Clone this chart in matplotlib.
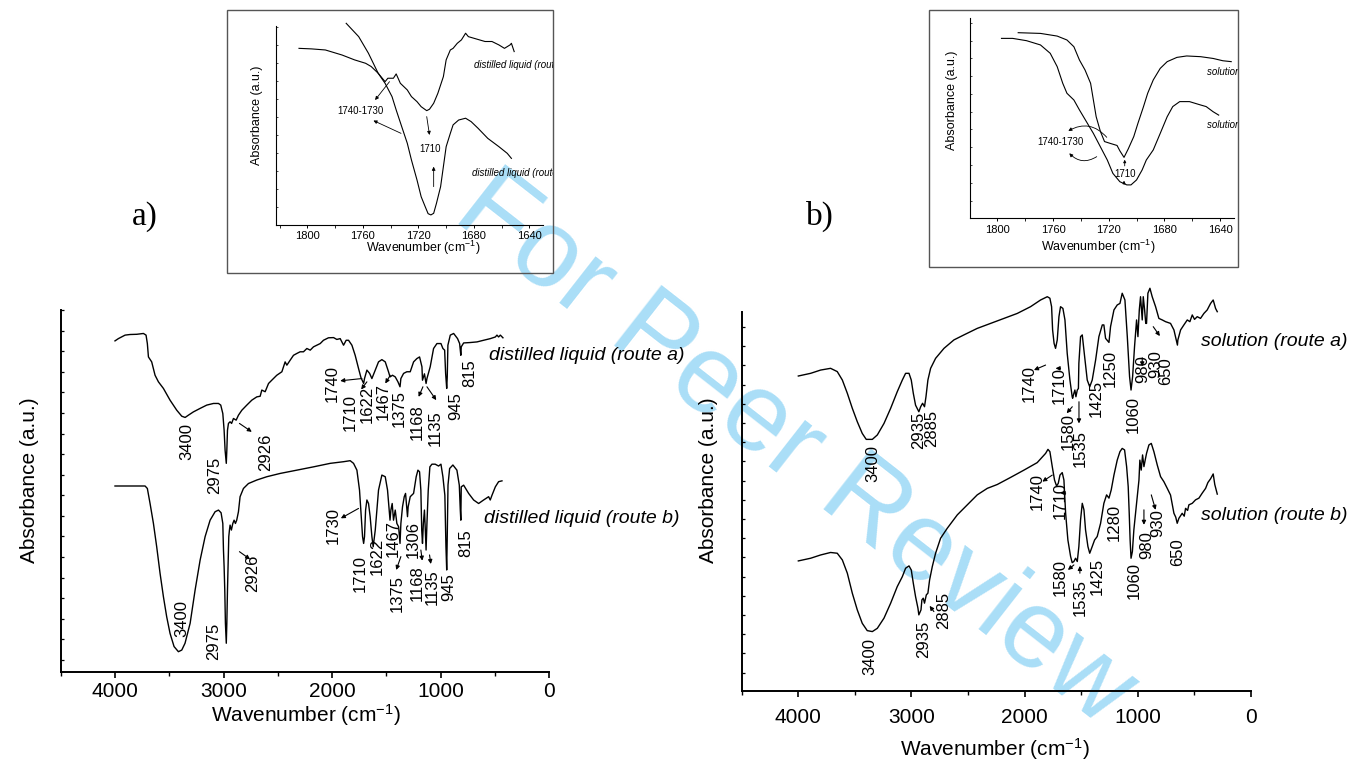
import matplotlib
matplotlib.use('Agg')
import matplotlib.pyplot as plt
from matplotlib.patches import Rectangle
from matplotlib.ticker import MultipleLocator

plt.rcParams['font.family'] = ['Liberation Sans', 'DejaVu Sans']
plt.rcParams['mathtext.default'] = 'regular'

# ---------------- panel a) distilled liquid, full spectra ----------------
dl_a_wn = [4000, 3969, 3907, 3861, 3800, 3738, 3714, 3702, 3692, 3662, 3631, 3600, 3554, 3493,
           3431, 3385, 3354, 3324, 3278, 3216, 3155, 3093, 3047, 3026, 3007, 2995, 2986, 2975,
           2970, 2964, 2955, 2940, 2926, 2909, 2884, 2863, 2832, 2786, 2740, 2694, 2663, 2648,
           2617, 2586, 2556, 2510, 2463, 2433, 2417, 2387, 2356, 2325, 2295, 2264, 2233, 2202,
           2172, 2141, 2110, 2080, 2034, 1987, 1957, 1926, 1895, 1871, 1849, 1818, 1788, 1757,
           1735, 1710, 1702, 1680, 1655, 1634, 1603, 1573, 1542, 1511, 1481, 1467, 1444, 1419,
           1394, 1375, 1367, 1342, 1312, 1281, 1250, 1220, 1195, 1173, 1168, 1150, 1135, 1127,
           1097, 1066, 1035, 998, 980, 964, 955, 945, 940, 934, 912, 881, 845, 826, 815, 811,
           789, 728, 666, 605, 543, 497, 482, 467, 451, 427]
dl_a_ab = [16.50, 16.61, 16.78, 16.81, 16.82, 16.86, 16.78, 16.37, 15.72, 15.48, 14.83, 14.51, 14.19, 13.62,
           13.13, 12.84, 12.78, 12.89, 13.05, 13.22, 13.38, 13.46, 13.46, 13.38, 12.97, 12.16, 11.19, 10.55,
           11.19, 12.16, 12.49, 12.57, 12.49, 12.73, 12.65, 12.89, 13.13, 13.38, 13.62, 13.78, 13.81, 14.11,
           14.03, 14.43, 14.59, 14.83, 15.00, 15.48, 15.32, 15.56, 15.80, 15.89, 15.97, 15.97, 16.13, 16.05,
           16.21, 16.29, 16.37, 16.53, 16.65, 16.66, 16.57, 16.61, 16.29, 16.53, 16.53, 16.29, 15.80, 15.16,
           14.72, 14.43, 14.67, 15.08, 14.92, 14.67, 15.08, 15.48, 15.59, 15.48, 15.00, 14.75, 14.83, 14.75,
           14.51, 14.27, 14.67, 14.92, 15.00, 15.00, 15.48, 15.64, 15.72, 15.24, 14.59, 14.90, 14.43, 14.67,
           15.24, 16.13, 16.37, 16.37, 16.13, 16.05, 14.92, 14.19, 14.75, 16.29, 16.78, 16.86, 16.61, 16.37, 15.80, 16.21,
           16.40, 16.42, 16.45, 16.53, 16.61, 16.69, 16.78, 16.69, 16.78, 16.65]

dl_b_wn = [4000, 3861, 3723, 3702, 3677, 3646, 3616, 3585, 3554, 3524, 3493, 3456, 3416, 3385,
           3355, 3308, 3262, 3216, 3170, 3124, 3078, 3047, 3023, 3007, 3001, 2995, 2989, 2983,
           2975, 2970, 2964, 2958, 2952, 2946, 2940, 2928, 2915, 2903, 2891, 2879, 2863, 2848,
           2817, 2771, 2694, 2602, 2479, 2325, 2172, 2018, 1895, 1834, 1803, 1772, 1748, 1732,
           1720, 1710, 1702, 1692, 1680, 1665, 1650, 1634, 1622, 1603, 1573, 1542, 1511, 1490,
           1467, 1459, 1447, 1435, 1419, 1404, 1388, 1375, 1367, 1352, 1336, 1324, 1306, 1300,
           1281, 1250, 1226, 1210, 1195, 1183, 1175, 1168, 1160, 1150, 1142, 1135, 1127, 1115,
           1100, 1081, 1051, 1020, 998, 980, 962, 952, 945, 940, 933, 918, 888, 851, 829, 820,
           815, 811, 789, 743, 697, 651, 605, 559, 544, 528, 497, 467, 436]
dl_b_ab = [9.45, 9.45, 9.45, 9.33, 8.60, 7.63, 6.50, 5.21, 4.07, 3.10, 2.29, 1.65, 1.40, 1.48,
           1.81, 2.78, 4.40, 5.85, 6.99, 7.79, 8.20, 8.28, 8.15, 7.63, 6.34, 5.53, 4.40, 2.78,
           1.81, 2.78, 4.40, 5.69, 6.99, 7.31, 7.55, 7.31, 7.63, 7.79, 7.63, 7.79, 8.20, 8.93,
           9.33, 9.57, 9.74, 9.90, 10.06, 10.22, 10.38, 10.55, 10.63, 10.68, 10.55, 10.22, 9.25, 7.96,
           6.99, 6.66, 6.99, 8.28, 8.77, 8.60, 7.96, 6.99, 6.50, 7.31, 9.25, 9.98, 9.90, 9.25,
           7.79, 8.28, 8.60, 7.79, 8.28, 7.63, 7.47, 6.66, 7.63, 8.44, 8.93, 9.09, 7.96, 8.44,
           8.93, 9.09, 9.90, 10.22, 10.14, 9.25, 7.31, 6.66, 7.63, 8.28, 7.31, 6.34, 7.63, 9.25,
           10.38, 10.51, 10.51, 10.42, 10.51, 9.90, 9.00, 6.50, 5.37, 7.00, 9.50, 10.30, 10.47, 10.22, 9.49, 8.30,
           7.79, 9.41, 9.49, 9.09, 8.77, 8.60, 8.77, 8.93, 8.77, 9.00, 9.41, 9.66, 9.70]

# peak labels (text, wavenumber, absorbance)
dl_a_labels = [('3400', 3339, 11.60), ('2975', 3078, 9.98), ('2926', 2617, 11.11),
               ('1740', 2003, 14.43), ('1710', 1834, 13.00), ('1622', 1676, 13.40),
               ('1467', 1533, 13.54), ('1375', 1379, 13.20), ('1168', 1220, 12.55),
               ('1135', 1050, 12.24), ('945', 860, 13.35), ('815', 734, 14.91)]
dl_b_labels = [('3400', 3385, 3.02), ('2975', 3094, 1.89), ('2926', 2731, 5.21),
               ('1730', 1988, 7.55), ('1710', 1742, 5.21), ('1622', 1588, 6.02),
               ('1467', 1435, 6.91), ('1375', 1404, 4.24), ('1306', 1256, 6.86),
               ('1168', 1220, 4.72), ('1135', 1081, 4.56), ('945', 928, 4.56), ('815', 765, 6.66)]
# arrows (tail wn, tail ab, head wn, head ab)
dl_arrows = [(2854, 12.49, 2740, 12.08), (1726, 14.67, 1926, 14.56), (1680, 14.51, 1733, 14.14),
             (1465, 14.83, 1511, 14.43), (1164, 14.27, 1204, 13.78), (1127, 14.27, 1041, 13.62),
             (2854, 6.26, 2756, 5.89), (1757, 8.36, 1920, 7.88), (1367, 6.02, 1410, 5.37),
             (1183, 6.34, 1170, 5.82), (1103, 6.10, 1091, 5.66)]

# ---------------- panel b) solution, full spectra ----------------
sol_a_wn = [4000, 3891, 3803, 3715, 3656, 3611, 3567, 3523, 3479, 3435, 3400, 3346, 3302, 3243,
            3184, 3126, 3081, 3052, 3022, 3002, 2984, 2964, 2935, 2919, 2902, 2885, 2872, 2855,
            2831, 2787, 2713, 2625, 2537, 2419, 2301, 2183, 2065, 1948, 1859, 1800, 1777, 1762,
            1753, 1740, 1727, 1712, 1697, 1683, 1662, 1644, 1624, 1600, 1580, 1576, 1565, 1556,
            1547, 1535, 1525, 1521, 1506, 1491, 1470, 1447, 1425, 1403, 1373, 1344, 1314, 1300,
            1285, 1255, 1241, 1211, 1182, 1158, 1138, 1114, 1093, 1073, 1060, 1046, 1029, 1011,
            999, 987, 976, 961, 952, 940, 930, 923, 911, 893, 873, 843, 814, 784, 755, 711,
            681, 650, 646, 622, 593, 563, 540, 519, 499, 475, 446, 416, 387, 357, 334, 313, 298]
sol_a_ab = [16.45, 16.59, 16.76, 16.85, 16.68, 16.24, 15.55, 14.77, 14.07, 13.46, 13.15, 13.15, 13.38, 13.98,
            14.77, 15.63, 16.24, 16.59, 16.59, 16.24, 15.55, 14.93, 14.59, 14.85, 15.03, 14.85, 15.37, 16.24,
            16.85, 17.37, 17.89, 18.33, 18.59, 18.93, 19.19, 19.45, 19.71, 20.06, 20.41, 20.58, 20.50, 20.06,
            18.85, 18.15, 17.89, 18.33, 19.54, 20.06, 19.97, 19.37, 17.63, 16.24, 15.37, 15.29, 15.55, 15.72,
            15.37, 15.72, 15.80, 17.11, 18.50, 18.59, 17.46, 16.24, 15.89, 16.24, 17.28, 18.50, 19.11, 19.11,
            18.41, 18.20, 19.02, 19.89, 20.15, 20.23, 20.76, 20.41, 18.50, 16.42, 15.72, 16.42, 17.98, 19.37,
            18.50, 19.89, 20.58, 19.37, 20.58, 19.89, 19.19, 19.19, 20.76, 21.02, 20.58, 20.06, 19.45, 19.37, 19.28, 19.19,
            18.85, 18.06, 18.33, 18.85, 19.11, 19.37, 19.28, 19.63, 19.40, 19.54, 19.45, 19.71, 19.89, 20.23, 20.41, 19.97, 19.80]

sol_b_wn = [4000, 3891, 3803, 3715, 3656, 3611, 3567, 3523, 3479, 3435, 3391, 3346, 3302, 3243,
            3184, 3126, 3081, 3052, 3022, 3002, 2984, 2964, 2943, 2935, 2916, 2908, 2896, 2885,
            2869, 2855, 2840, 2816, 2787, 2743, 2684, 2595, 2507, 2419, 2330, 2242, 2124, 2006,
            1889, 1815, 1794, 1777, 1756, 1736, 1718, 1703, 1688, 1668, 1653, 1638, 1618, 1594,
            1580, 1565, 1550, 1535, 1521, 1506, 1491, 1476, 1462, 1441, 1425, 1403, 1382, 1359,
            1329, 1300, 1276, 1255, 1235, 1211, 1182, 1158, 1138, 1117, 1099, 1085, 1076, 1068,
            1060, 1048, 1035, 1017, 1005, 990, 982, 970, 958, 946, 935, 923, 902, 881, 858, 828,
            799, 770, 740, 711, 681, 665, 652, 637, 608, 590, 578, 560, 549, 519, 490, 460, 431,
            401, 381, 357, 334, 320, 298]
sol_b_ab = [6.82, 6.96, 7.13, 7.26, 7.22, 6.87, 6.18, 5.14, 4.27, 3.57, 3.19, 3.14, 3.31, 3.84,
            4.62, 5.48, 6.00, 6.44, 6.56, 6.35, 5.66, 4.96, 4.36, 4.01, 4.27, 4.79, 4.88, 4.62,
            5.05, 5.14, 5.83, 6.53, 7.22, 8.00, 8.52, 9.22, 9.74, 10.26, 10.60, 10.80, 11.17, 11.55,
            11.94, 12.42, 12.63, 12.51, 11.73, 11.03, 10.72, 10.86, 11.29, 11.42, 11.03, 9.30, 7.91, 7.05,
            6.73, 6.79, 6.96, 6.79, 7.57, 8.96, 9.82, 9.48, 8.44, 7.57, 7.22, 7.57, 7.91, 8.09,
            8.78, 9.82, 10.26, 10.09, 10.52, 11.29, 12.07, 12.51, 12.68, 12.60, 11.73, 10.69, 9.30, 7.90,
            6.96, 7.31, 8.44, 9.48, 10.17, 11.03, 12.07, 11.55, 12.34, 11.73, 12.07, 12.42, 12.86, 12.94, 12.51, 11.81,
            11.21, 10.95, 10.60, 10.25, 9.30, 9.10, 8.78, 9.04, 9.30, 9.15, 9.56, 9.45, 9.74, 9.82, 10.00, 10.09, 10.35,
            10.60, 10.90, 11.10, 11.35, 10.80, 10.30]

sol_a_labels = [('3400', 3346, 11.87), ('2935', 2934, 13.64), ('2885', 2822, 13.72),
                ('1740', 1962, 16.07), ('1710', 1697, 15.93), ('1580', 1618, 13.55),
                ('1535', 1506, 12.65), ('1425', 1365, 15.29), ('1250', 1241, 16.85),
                ('1060', 1044, 14.47), ('980', 955, 16.80), ('930', 846, 17.07), ('650', 752, 16.68)]
sol_b_labels = [('3400', 3367, 1.84), ('2935', 2896, 2.74), ('2885', 2719, 4.23),
                ('1740', 1889, 10.41), ('1710', 1683, 9.96), ('1580', 1688, 5.97),
                ('1535', 1506, 4.93), ('1425', 1359, 6.00), ('1280', 1205, 8.82),
                ('1060', 1035, 5.80), ('980', 917, 7.65), ('930', 820, 8.78), ('650', 652, 7.26)]
sol_arrows = [(1815, 17.02, 1918, 16.76), (1683, 16.85, 1727, 16.85), (1579, 14.85, 1629, 14.51),
              (1520, 15.11, 1520, 13.98), (961, 17.40, 961, 16.95), (864, 19.02, 805, 18.53),
              (2802, 4.18, 2840, 4.48), (1756, 11.29, 1844, 10.95), (1638, 10.35, 1683, 10.35),
              (1565, 6.61, 1618, 6.35), (1512, 6.18, 1512, 6.56), (946, 9.48, 946, 8.70),
              (881, 10.26, 843, 9.48)]

# ---------------- insets: carbonyl region ----------------
ins_dl_a_wn = [1772, 1763, 1756, 1749, 1744, 1742, 1738, 1736, 1733, 1728, 1725, 1721, 1718, 1714,
               1712, 1709, 1706, 1702, 1700, 1697, 1695, 1692, 1689, 1686, 1684, 1680, 1676, 1672,
               1667, 1662, 1658, 1654, 1653, 1651]
ins_dl_a_ab = [11.20, 10.46, 9.54, 8.43, 7.96, 8.15, 8.15, 8.39, 7.87, 7.50, 7.13, 6.85, 6.57, 6.35,
               6.43, 6.76, 7.31, 8.24, 9.17, 9.72, 9.81, 10.09, 10.28, 10.65, 10.46, 10.37, 10.28, 10.19,
               10.19, 10.00, 9.81, 10.00, 10.09, 9.63]
ins_dl_b_wn = [1806, 1797, 1787, 1775, 1766, 1758, 1754, 1749, 1744, 1739, 1736, 1732, 1728, 1725,
               1721, 1718, 1715, 1713, 1711, 1709, 1707, 1704, 1702, 1700, 1697, 1695, 1691, 1686,
               1682, 1677, 1670, 1662, 1656, 1653]
ins_dl_b_ab = [9.81, 9.78, 9.72, 9.44, 9.17, 8.98, 8.80, 8.43, 7.87, 7.13, 6.39, 5.46, 4.54, 3.61,
               2.50, 1.57, 1.00, 0.63, 0.56, 0.65, 1.20, 2.13, 3.24, 4.35, 5.09, 5.56, 5.83, 5.93,
               5.74, 5.37, 4.81, 4.35, 3.98, 3.70]

ins_sol_a_wn = [1785, 1769, 1757, 1750, 1745, 1741, 1737, 1733, 1731, 1729, 1726, 1723, 1719, 1714,
                1712, 1709, 1706, 1702, 1699, 1695, 1692, 1688, 1683, 1678, 1671, 1664, 1654, 1645,
                1638, 1632]
ins_sol_a_ab = [10.45, 10.41, 10.26, 10.04, 9.66, 8.91, 8.35, 7.60, 6.66, 5.72, 4.90, 4.32, 4.22, 4.10,
                3.80, 3.43, 3.90, 4.60, 5.35, 6.29, 7.04, 7.79, 8.44, 8.82, 9.06, 9.14, 9.10, 9.00,
                8.87, 8.82]
ins_sol_b_wn = [1797, 1789, 1779, 1769, 1762, 1757, 1753, 1750, 1745, 1741, 1736, 1731, 1726, 1721,
                1717, 1712, 1707, 1704, 1700, 1696, 1693, 1688, 1683, 1678, 1674, 1669, 1662, 1654,
                1650, 1645, 1641]
ins_sol_b_ab = [10.13, 10.13, 10.00, 9.76, 9.29, 8.54, 7.60, 7.04, 6.66, 6.10, 5.44, 4.78, 4.03, 3.28,
                2.53, 2.06, 1.88, 1.88, 2.16, 2.72, 3.28, 3.85, 4.78, 5.72, 6.29, 6.57, 6.57, 6.38,
                6.29, 6.00, 5.81]

fig = plt.figure(figsize=(13.58, 7.63), dpi=100)

# watermark, behind the (transparent) axes
fig.text(0.585, 0.41, 'For Peer Review', rotation=-38, fontsize=80, color='#aadef7',
         ha='center', va='center', zorder=-10)


def main_axes(rect, ymin, ymax, pad):
    ax = fig.add_axes(rect)
    ax.set_facecolor('none')
    ax.set_xlim(4500, 0)
    ax.set_ylim(ymin, ymax)
    ax.spines['top'].set_visible(False)
    ax.spines['right'].set_visible(False)
    ax.spines['left'].set_linewidth(1.4)
    ax.spines['bottom'].set_linewidth(1.4)
    ax.xaxis.set_major_locator(MultipleLocator(1000))
    ax.xaxis.set_minor_locator(MultipleLocator(500))
    ax.yaxis.set_major_locator(MultipleLocator(1))
    ax.tick_params(axis='x', which='major', direction='out', length=4, width=1.2,
                   labelsize=15, pad=pad)
    ax.tick_params(axis='x', which='minor', direction='out', length=3, width=1.0)
    ax.tick_params(axis='y', which='major', direction='in', length=2.5, width=0.9,
                   labelleft=False)
    return ax


def inset_axes(rect, xlim, ylim):
    ax = fig.add_axes(rect)
    ax.set_facecolor('none')
    ax.set_xlim(*xlim)
    ax.set_ylim(*ylim)
    ax.spines['top'].set_visible(False)
    ax.spines['right'].set_visible(False)
    ax.spines['left'].set_linewidth(0.8)
    ax.spines['bottom'].set_linewidth(0.8)
    ax.xaxis.set_major_locator(MultipleLocator(40))
    ax.xaxis.set_minor_locator(MultipleLocator(20))
    ax.yaxis.set_major_locator(MultipleLocator(1))
    ax.tick_params(axis='x', which='major', direction='out', length=2.5, width=0.7,
                   labelsize=8, pad=2)
    ax.tick_params(axis='x', which='minor', direction='out', length=1.8, width=0.6)
    ax.tick_params(axis='y', which='major', direction='in', length=1.5, width=0.5,
                   labelleft=False)
    return ax


def peak_labels(ax, labels, fs=12):
    for s, x, y in labels:
        ax.text(x, y, s, rotation=90, ha='center', va='center', fontsize=fs)


def draw_arrows(ax, arrows, lw=0.8, ms=6):
    for tx, ty, hx, hy in arrows:
        ax.annotate('', xy=(hx, hy), xytext=(tx, ty), annotation_clip=False,
                    arrowprops=dict(arrowstyle='-|>', color='k', lw=lw,
                                    mutation_scale=ms, shrinkA=0, shrinkB=0))


# ---- a) main
ax1 = main_axes([0.0447, 0.1189, 0.3598, 0.4748], 0.4, 18.0, 3)
ax1.plot(dl_a_wn, dl_a_ab, color='k', lw=1.0, clip_on=False)
ax1.plot(dl_b_wn, dl_b_ab, color='k', lw=1.0, clip_on=False)
peak_labels(ax1, dl_a_labels)
peak_labels(ax1, dl_b_labels)
draw_arrows(ax1, dl_arrows)
ax1.text(553, 15.80, 'distilled liquid (route a)', style='italic', fontsize=14,
         ha='left', va='center')
ax1.text(605, 7.88, 'distilled liquid (route b)', style='italic', fontsize=14,
         ha='left', va='center')
ax1.set_xlabel('Wavenumber (cm$^{-1}$)', fontsize=15)
ax1.xaxis.set_label_coords(0.502, -0.083)
ax1.set_ylabel('Absorbance (a.u.)', fontsize=15)
ax1.yaxis.set_label_coords(-0.045, 0.531)

# ---- b) main
ax2 = main_axes([0.5462, 0.0944, 0.3750, 0.4971], 0.047, 19.8, 8)
ax2.plot(sol_a_wn, sol_a_ab, color='k', lw=1.0, clip_on=False)
ax2.plot(sol_b_wn, sol_b_ab, color='k', lw=1.0, clip_on=False)
peak_labels(ax2, sol_a_labels)
peak_labels(ax2, sol_b_labels)
draw_arrows(ax2, sol_arrows)
ax2.text(446, 18.24, 'solution (route a)', style='italic', fontsize=14,
         ha='left', va='center')
ax2.text(446, 9.21, 'solution (route b)', style='italic', fontsize=14,
         ha='left', va='center')
ax2.set_xlabel('Wavenumber (cm$^{-1}$)', fontsize=15)
ax2.xaxis.set_label_coords(0.497, -0.118)
ax2.set_ylabel('Absorbance (a.u.)', fontsize=15)
ax2.yaxis.set_label_coords(-0.047, 0.556)

fig.text(0.1068, 0.716, 'a)', fontsize=24, family='Liberation Serif', ha='center', va='center')
fig.text(0.6038, 0.716, 'b)', fontsize=24, family='Liberation Serif', ha='center', va='center')

# ---- inset a) (a cropped picture in the original, so its labels run into the frame)
box1 = Rectangle((0.1672, 0.6422), 0.2401, 0.3447, transform=fig.transFigure,
                 fill=False, ec='#555555', lw=1.0)
fig.add_artist(box1)
ia = inset_axes([0.2030, 0.7051, 0.1971, 0.2608], (1822.8, 1630), (0, 11.05))
ia.plot(ins_dl_a_wn, ins_dl_a_ab, color='k', lw=0.8, clip_on=False)
ia.plot(ins_dl_b_wn, ins_dl_b_ab, color='k', lw=0.8, clip_on=False)
ia.text(1762, 6.33, '1740-1730', fontsize=7, ha='center', va='center')
ia.text(1711.6, 4.22, '1710', fontsize=7, ha='center', va='center')
draw_arrows(ia, [(1740.8, 7.96, 1751.2, 6.94), (1732.5, 5.09, 1752.4, 5.80),
                 (1714, 6.02, 1712, 5.0), (1709, 2.13, 1709, 3.24)], lw=0.6, ms=5)
for txt, x, y in [('distilled liquid (route a)', 1679.6, 8.89),
                  ('distilled liquid (route b)', 1681.1, 2.91)]:
    t = ia.text(x, y, txt, style='italic', fontsize=7, ha='left', va='center')
    t.set_clip_path(box1)
    t.set_clip_on(True)
ia.text(-0.071, 0.553, 'Absorbance (a.u.)', fontsize=9, rotation=90, ha='center',
        va='center', transform=ia.transAxes)
ia.text(0.55, -0.117, 'Wavenumber (cm$^{-1}$)', fontsize=9, ha='center', va='center',
        transform=ia.transAxes)

# ---- inset b)
box2 = Rectangle((0.6843, 0.6505), 0.2275, 0.3364, transform=fig.transFigure,
                 fill=False, ec='#555555', lw=1.0)
fig.add_artist(box2)
ib = inset_axes([0.7143, 0.7139, 0.1944, 0.2621], (1819.6, 1630), (0, 11.26))
ib.plot(ins_sol_a_wn, ins_sol_a_ab, color='k', lw=0.8, clip_on=False)
ib.plot(ins_sol_b_wn, ins_sol_b_ab, color='k', lw=0.8, clip_on=False)
ib.text(1755, 4.32, '1740-1730', fontsize=7, ha='center', va='center')
ib.text(1708.3, 2.5, '1710', fontsize=7, ha='center', va='center')
ib.annotate('', xy=(1749, 4.92), xytext=(1721.4, 4.56), annotation_clip=False,
            arrowprops=dict(arrowstyle='-|>', color='k', lw=0.6, mutation_scale=5,
                            shrinkA=0, shrinkB=0, connectionstyle='arc3,rad=0.4'))
ib.annotate('', xy=(1748.3, 3.66), xytext=(1728.6, 3.47), annotation_clip=False,
            arrowprops=dict(arrowstyle='-|>', color='k', lw=0.6, mutation_scale=5,
                            shrinkA=0, shrinkB=0, connectionstyle='arc3,rad=-0.4'))
draw_arrows(ib, [(1708.5, 2.95, 1708.5, 3.3), (1709, 1.92, 1709, 2.12)], lw=0.6, ms=4)
for txt, x, y in [('solution (route a)', 1649.6, 8.26),
                  ('solution (route b)', 1649.6, 5.25)]:
    t = ib.text(x, y, txt, style='italic', fontsize=7, ha='left', va='center')
    t.set_clip_path(box2)
    t.set_clip_on(True)
ib.text(-0.069, 0.59, 'Absorbance (a.u.)', fontsize=9, rotation=90, ha='center',
        va='center', transform=ib.transAxes)
ib.text(0.485, -0.142, 'Wavenumber (cm$^{-1}$)', fontsize=9, ha='center', va='center',
        transform=ib.transAxes)

fig.savefig('out.png', dpi=100)
